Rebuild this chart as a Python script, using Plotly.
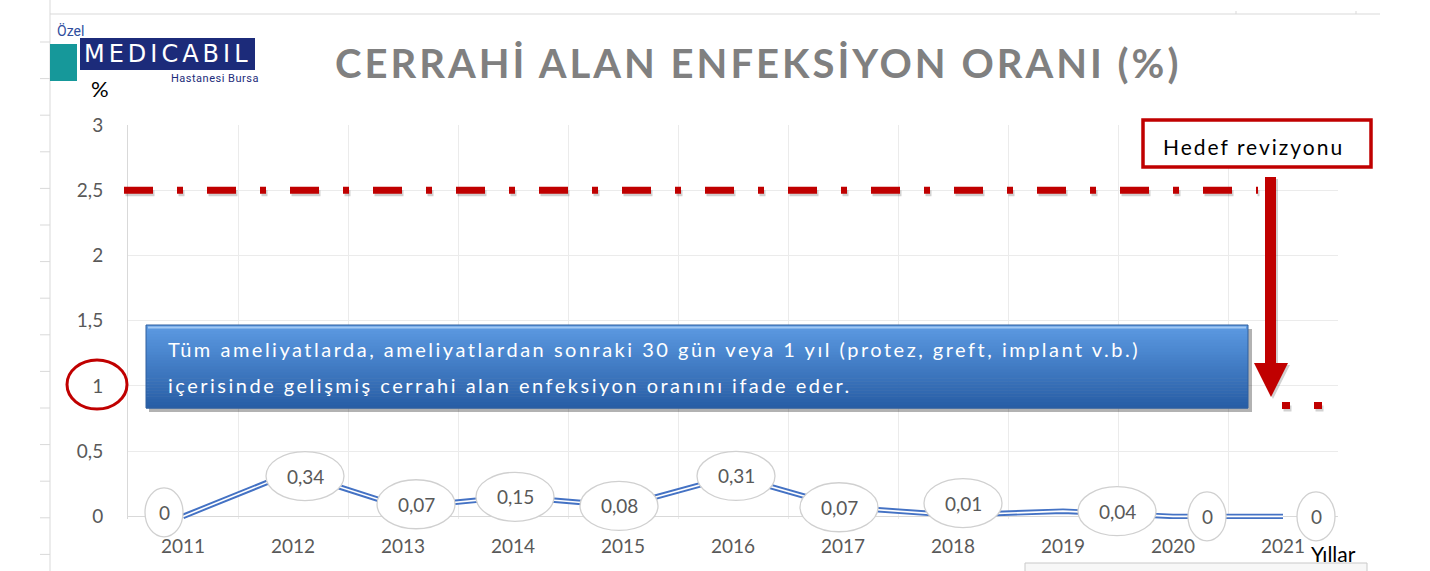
import plotly.graph_objects as go

# ---------------- data ----------------
years = [2011, 2012, 2013, 2014, 2015, 2016, 2017, 2018, 2019, 2020, 2021]
rates = [0, 0.34, 0.07, 0.15, 0.08, 0.31, 0.07, 0.01, 0.04, 0, 0]
target_old = 2.5
target_new = 0.85
y_ticks = [0, 0.5, 1, 1.5, 2, 2.5, 3]
title_text = "CERRAHİ ALAN ENFEKSİYON ORANI (%)"
box_lines = [
    "Tüm ameliyatlarda, ameliyatlardan sonraki 30 gün veya 1 yıl (protez, greft, implant v.b.)",
    "içerisinde gelişmiş cerrahi alan enfeksiyon oranını ifade eder.",
]
note_text = "Hedef revizyonu"
x_axis_title = "Yıllar"
y_axis_title = "%"

# ---------------- layout geometry / style ----------------
W, H = 1430, 571
ML, MR, MT = 128, 92, 125
PLOT_BOTTOM_PX = 519          # pixel row of the y range minimum
YMIN, YMAX = -0.02, 3
PW = W - ML - MR
PH_ALL = H - MT               # plot area height (bottom margin 0)
PPU = (PLOT_BOTTOM_PX - MT) / (YMAX - YMIN)   # pixels per y unit
Y_DOMAIN_BOTTOM = (H - PLOT_BOTTOM_PX) / PH_ALL
Y2_MIN = YMAX - PH_ALL / PPU  # overlay axis with same scale, reaching the page bottom
FONT = "Lato"
GRAY = "#595959"
RED = "#c00000"


def px(x):
    return (x - ML) / PW


def py(y):
    return (H - y) / PH_ALL


# label offsets (pixels, dx right, dy down) - style only
label_offsets = [(-19, -4), (12, 4), (13, -3), (2, 0), (-4, 0), (3, 0),
                 (-4, 0), (10, -12), (54, 0), (34, 0), (33, 0)]


def fmt(v):
    return f"{v:g}".replace(".", ",")


def ann(x, y, text, size, color, family=FONT, xanchor="center", spacing=None):
    if spacing is not None:
        text = f'<span style="letter-spacing:{spacing}px">{text}</span>'
    return dict(xref="paper", yref="paper", x=x, y=y, text=text, showarrow=False,
                xanchor=xanchor, yanchor="middle",
                font=dict(family=family, size=size, color=color))


fig = go.Figure()
fig.add_trace(go.Scatter(x=years, y=rates, mode="lines",
                         line=dict(color="#4472c4", width=5.5),
                         hoverinfo="skip", showlegend=False))
fig.add_trace(go.Scatter(x=years, y=rates, mode="lines",
                         line=dict(color="white", width=1.6),
                         hoverinfo="skip", showlegend=False))
# invisible trace establishing the unclipped label layer (x2/y2)
fig.add_trace(go.Scatter(x=years, y=rates, xaxis="x2", yaxis="y2", mode="markers",
                         marker=dict(opacity=0), hoverinfo="skip", showlegend=False))

shapes = []
annotations = []

# outer sheet frame
shapes.append(dict(type="line", xref="paper", yref="paper", x0=px(50), x1=px(50),
                   y0=py(0), y1=py(571), line=dict(color="#d9d9d9", width=1)))
shapes.append(dict(type="line", xref="paper", yref="paper", x0=px(50), x1=px(1380),
                   y0=py(14), y1=py(14), line=dict(color="#d9d9d9", width=1)))
k = 0
while 42 + k * 36.6 < 571:
    yy = 42 + k * 36.6
    shapes.append(dict(type="line", xref="paper", yref="paper", x0=px(40), x1=px(50),
                       y0=py(yy), y1=py(yy), line=dict(color="#d9d9d9", width=1)))
    k += 1
for xx in (1236, 1356):
    shapes.append(dict(type="line", xref="paper", yref="paper", x0=px(xx), x1=px(xx),
                       y0=py(14), y1=py(11), line=dict(color="#d9d9d9", width=1)))

# target lines (with a soft drop shadow)
for val, xa, xb, dash in ((target_old, 124, 1258, "29px,24px,6px,24px"),
                          (target_new, 1282, 1322, "8px,24px")):
    shapes.append(dict(type="line", xref="paper", yref="y", ysizemode="pixel", yanchor=val,
                       x0=px(xa + 1.5), x1=px(xb + 1.5), y0=-3, y1=-3,
                       line=dict(color="rgba(0,0,0,0.18)", width=6, dash=dash)))
    shapes.append(dict(type="line", xref="paper", yref="y", x0=px(xa), x1=px(xb),
                       y0=val, y1=val, line=dict(color=RED, width=7, dash=dash)))

# arrow (with shadow)
arrow = [(1265, 177), (1276, 177), (1276, 363), (1288, 363), (1271, 397),
         (1254, 363), (1265, 363)]
shadow_path = "M " + " L ".join(f"{px(a + 2):.5f},{py(b + 2):.5f}" for a, b in arrow) + " Z"
shapes.append(dict(type="path", xref="paper", yref="paper", path=shadow_path,
                   fillcolor="rgba(0,0,0,0.18)", line=dict(width=0)))
path = "M " + " L ".join(f"{px(a):.5f},{py(b):.5f}" for a, b in arrow) + " Z"
shapes.append(dict(type="path", xref="paper", yref="paper", path=path,
                   fillcolor=RED, line=dict(color=RED, width=0)))

# Hedef revizyonu box
shapes.append(dict(type="rect", xref="paper", yref="paper", x0=px(1143), x1=px(1371),
                   y0=py(167), y1=py(120), fillcolor="white",
                   line=dict(color=RED, width=3.5)))
annotations.append(ann(px(1253), py(146), note_text, 21, "black", spacing=2))

# blue info box with shadow + vertical gradient
bx0, bx1, by0, by1 = 146, 1248, 325, 408
shapes.append(dict(type="rect", xref="paper", yref="paper", x0=px(bx0 + 3), x1=px(bx1 + 4),
                   y0=py(by1 + 4), y1=py(by0 + 4), fillcolor="rgba(0,0,0,0.30)",
                   line=dict(width=0)))
n = 28
top = (92, 154, 226)
bot = (40, 94, 166)
for i in range(n):
    t = i / (n - 1)
    c = tuple(int(top[j] + (bot[j] - top[j]) * t) for j in range(3))
    ya = by0 + (by1 - by0) * i / n
    yb = by0 + (by1 - by0) * (i + 1) / n
    shapes.append(dict(type="rect", xref="paper", yref="paper", x0=px(bx0), x1=px(bx1),
                       y0=py(yb + 0.5), y1=py(ya), fillcolor=f"rgb{c}", line=dict(width=0)))
shapes.append(dict(type="line", xref="paper", yref="paper", x0=px(bx0 + 2), x1=px(bx1 - 2),
                   y0=py(by0 + 2.5), y1=py(by0 + 2.5),
                   line=dict(color="rgba(170,205,245,0.9)", width=2)))
shapes.append(dict(type="rect", xref="paper", yref="paper", x0=px(bx0), x1=px(bx1),
                   y0=py(by1), y1=py(by0), fillcolor="rgba(0,0,0,0)",
                   line=dict(color="#2f5e9e", width=1)))
for txt, yy in zip(box_lines, (349, 385)):
    annotations.append(ann(px(166), py(yy), txt, 20, "white", xanchor="left", spacing=2.5))

# red circle around y tick "1"
shapes.append(dict(type="circle", xref="paper", yref="paper", x0=px(67), x1=px(127),
                   y0=py(409), y1=py(360), line=dict(color=RED, width=3)))

# data label ellipses (on unclipped overlay axes) + text
for yr, v, (dx, dy) in zip(years, rates, label_offsets):
    txt = fmt(v)
    w = 38 if len(txt) == 1 else 78
    h = 49
    shapes.append(dict(type="circle", xref="x2", yref="y2", xsizemode="pixel",
                       ysizemode="pixel", xanchor=yr, yanchor=v,
                       x0=dx - w / 2, x1=dx + w / 2, y0=-dy - h / 2, y1=-dy + h / 2,
                       fillcolor="white", line=dict(color="#d0d0d0", width=1.3)))
    annotations.append(dict(x=yr, y=v, xref="x", yref="y", text=txt, showarrow=False,
                            xanchor="center", yanchor="middle",
                            xshift=dx, yshift=-dy,
                            font=dict(family=FONT, size=19, color=GRAY)))

# logo
shapes.append(dict(type="rect", xref="paper", yref="paper", x0=px(80), x1=px(255),
                   y0=py(70), y1=py(38), fillcolor="#1c2b7a", line=dict(width=0)))
shapes.append(dict(type="rect", xref="paper", yref="paper", x0=px(50), x1=px(77),
                   y0=py(81), y1=py(44), fillcolor="#16989a", line=dict(width=0)))
annotations.append(ann(px(70), py(31), "Özel", 14, "#2f4e9e", family="Roboto"))
annotations.append(ann(px(168), py(54), "MEDICABIL", 24, "white", family="DejaVu Sans",
                       spacing=4))
annotations.append(ann(px(215), py(78), "Hastanesi Bursa", 11, "#1c2b7a", family="Roboto",
                       spacing=0.5))
annotations.append(ann(px(100), py(88), y_axis_title, 22, "black"))

# title
annotations.append(ann(px(758), py(63), f"<b>{title_text}</b>", 40, "#808080", spacing=3))

# x axis title
annotations.append(ann(px(1333), py(553), x_axis_title, 21, "black"))

# bottom-right overlay box
shapes.append(dict(type="rect", xref="paper", yref="paper", x0=px(1025), x1=px(1367),
                   y0=py(580), y1=py(563), fillcolor="#f7f7f7",
                   line=dict(color="#c9c9c9", width=1)))

boundaries = [y - 0.5 for y in years] + [years[-1] + 0.5]
xrange_ = [years[0] - 0.5, years[-1] + 0.5]

fig.update_layout(
    width=W, height=H, autosize=False,
    margin=dict(l=ML, r=MR, t=MT, b=0, pad=0, autoexpand=False),
    paper_bgcolor="white", plot_bgcolor="rgba(0,0,0,0)",
    separators=",.",
    showlegend=False,
    shapes=shapes,
    annotations=annotations,
    xaxis=dict(range=xrange_, tickvals=years, anchor="y", automargin=False,
               ticktext=[str(y) for y in years], showgrid=False, zeroline=False,
               ticks="", ticklabelstandoff=14,
               tickfont=dict(family=FONT, size=19, color=GRAY),
               minor=dict(tickvals=boundaries, showgrid=True, gridcolor="#ebebeb",
                          gridwidth=1, ticks="")),
    yaxis=dict(range=[YMIN, YMAX], domain=[Y_DOMAIN_BOTTOM, 1], anchor="x",
               automargin=False,
               tickvals=y_ticks, showgrid=True, gridcolor="#ebebeb",
               zeroline=True, zerolinecolor="#d9d9d9", zerolinewidth=1,
               showline=True, linecolor="#d9d9d9", ticks="", ticklabelstandoff=20,
               tickfont=dict(family=FONT, size=19, color=GRAY)),
    xaxis2=dict(range=xrange_, domain=[0, 1], anchor="y2", visible=False,
                automargin=False, showgrid=False, zeroline=False),
    yaxis2=dict(range=[Y2_MIN, YMAX], domain=[0, 1], anchor="x2", visible=False,
                automargin=False, showgrid=False, zeroline=False),
)

fig.write_html("out.html", config={"displayModeBar": False},
               post_script="document.body.style.margin='0px';")
